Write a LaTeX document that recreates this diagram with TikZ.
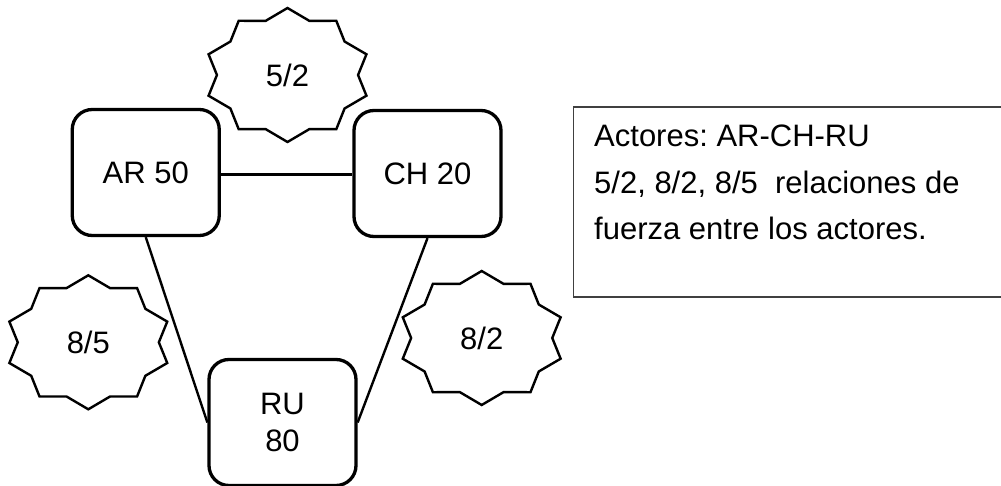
\documentclass[tikz,border=0pt]{standalone}
\usepackage{fontspec}
\setmainfont{Liberation Sans}
\usetikzlibrary{calc}
\frenchspacing
\definecolor{framegray}{HTML}{404040}
\tikzset{
  actor/.style={draw, line width=3.3pt, rounded corners=20pt, fill=white,
    minimum width=147pt, minimum height=126pt, inner sep=0pt, align=center,
    font=\fontsize{31}{37}\selectfont},
  link/.style={line width=2.4pt},
  burst/.style={line width=2.4pt, line join=miter},
  lbl/.style={font=\fontsize{31}{37}\selectfont, inner sep=0pt},
  legend/.style={font=\fontsize{31}{46.5}\selectfont, align=left, inner sep=0pt, anchor=north west},
  frameline/.style={draw=framegray, line width=1.4pt}
}
\newcommand\burstat[1]{%
  \draw[burst] ($(#1)+(90:83pt and 67pt)$)
  \foreach \i in {1,...,19}{ -- ($(#1)+({90+18*\i}:{83pt*(1-0.15*mod(\i,2))} and {67pt*(1-0.15*mod(\i,2))})$) } -- cycle;}
\begin{document}
\begin{tikzpicture}[x=1pt,y=-1pt]
\useasboundingbox (0,0) rectangle (1001,486);
\fill[white] (0,0) rectangle (1001,486);

% stars
\coordinate (c52) at (287.5,75);
\coordinate (c85) at (88.3,342.3);
\coordinate (c82) at (481.7,338);
\burstat{c52}
\burstat{c85}
\burstat{c82}
\node[lbl] (t52) at (c52) {5/2};
\node[lbl] (t85) at (c85) {8/5};
\node[lbl] (t82) at (c82) {8/2};

% actors
\node[actor] (ar) at (145.75,172.5) {AR 50};
\node[actor] (ch) at (427.5,173.5) {CH 20};
\node[actor] (ru) at (282.5,422.5) {RU\\80};

% links
\draw[link] ([yshift=-2pt]ar.east) -- ([yshift=-2pt]ar.east -| ch.west);
\draw[link] (ar.south) -- (ru.west);
\draw[link] (ch.south) -- (ru.east);

% legend
\coordinate (lgA) at (1010,107);
\coordinate (lgB) at (573.3,107);
\coordinate (lgC) at (573.3,297);
\coordinate (lgD) at (1010,297);
\draw[frameline] (lgA) -- (lgB) -- (lgC) -- (lgD);
\node[legend] (leg) at (594,125) {Actores: AR-CH-RU\\5/2, 8/2, 8/5\ \ relaciones de\\fuerza entre los actores.};
\end{tikzpicture}
\end{document}
